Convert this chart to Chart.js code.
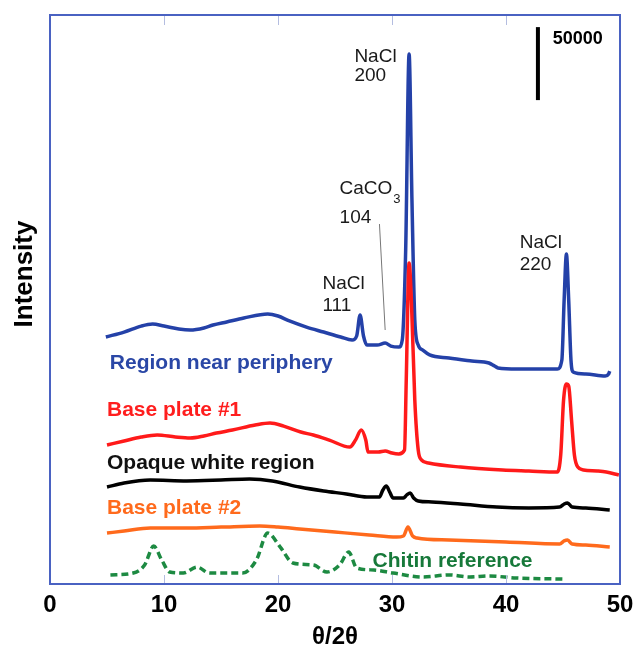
<!DOCTYPE html>
<html>
<head>
<meta charset="utf-8">
<script src="https://cdn.jsdelivr.net/npm/chart.js@4.4.1/dist/chart.umd.min.js"></script>
<style>
  html, body { margin: 0; padding: 0; background: #fff; }
  #wrap { width: 636px; height: 653px; }
</style>
</head>
<body>
<div id="wrap"><canvas id="xrd" width="636" height="653"></canvas></div>
<script>
// 2theta positions and offset intensities (counts)
var periphX = [4.9, 6.5, 8, 9, 10, 11.3, 12.3, 13.5, 14.3, 15.5, 17, 19.1, 20, 21, 22.5, 24, 25.5, 26.5, 26.9, 27.2, 27.5, 27.8, 28.7, 29.4, 29.9, 30.6, 30.9, 31.2, 31.5, 31.75, 32.0, 32.3, 32.7, 33.3, 35, 37, 38.5, 39, 39.3, 41, 44.5, 44.9, 45.1, 45.3, 45.5, 45.7, 45.9, 47, 48.7, 49.0, 49.1];
var periphY = [169200, 172600, 176700, 178100, 176700, 174700, 174000, 175400, 177400, 179500, 182200, 185000, 183600, 180200, 176000, 172600, 169200, 167100, 169900, 184300, 169900, 163700, 163700, 165100, 163000, 162300, 167100, 228800, 363100, 263000, 180800, 163700, 160300, 156900, 154800, 152800, 151400, 149300, 148000, 147300, 147300, 153400, 194500, 226100, 194500, 153400, 145200, 143900, 142500, 143900, 145900];

var base1X = [5, 6.5, 8, 9.4, 11, 12.3, 13.5, 14.6, 16, 18, 19.3, 20.5, 22, 23.1, 24.5, 26.3, 26.8, 27.3, 27.7, 27.9, 28.8, 29.4, 30, 30.6, 31.1, 31.25, 31.5, 31.7, 32.0, 32.3, 32.6, 33.2, 36, 39.7, 42, 44.5, 44.8, 45.05, 45.3, 45.5, 45.75, 46.0, 46.3, 46.8, 48, 48.8, 49.9];
var base1Y = [95200, 98000, 100700, 102100, 100700, 100000, 101400, 103400, 105500, 108900, 110300, 108200, 104100, 102100, 98600, 93800, 98600, 105500, 98600, 90400, 90400, 91100, 89700, 89100, 91800, 139700, 219900, 194500, 126000, 91800, 84900, 82900, 80100, 78100, 77400, 76700, 88400, 126000, 137000, 135600, 112300, 88400, 80100, 78100, 77400, 76700, 74700];

var opaqueX = [5, 6.5, 8.8, 12, 15, 17.5, 19.5, 21.9, 24, 26, 27.8, 28.9, 29.2, 29.5, 29.8, 30.1, 31, 31.3, 31.6, 31.9, 32.3, 33.5, 36, 39.2, 42, 44.7, 45.1, 45.4, 45.8, 47, 49.1];
var opaqueY = [66400, 69200, 71200, 70600, 71200, 71900, 70600, 66400, 63700, 61700, 59600, 59600, 64400, 67100, 63000, 58900, 58900, 61000, 62300, 58900, 56900, 56200, 54800, 52700, 52100, 52700, 54800, 55500, 52700, 52100, 50700];

var base2X = [5, 6.5, 8.8, 12, 15, 18.4, 20, 21.9, 25, 28, 30.4, 31.0, 31.4, 31.8, 32.2, 35, 40, 44.7, 45.1, 45.4, 45.8, 47, 49.1];
var base2Y = [34900, 36300, 38400, 38400, 39000, 39700, 39000, 37700, 35600, 33600, 32200, 32900, 39000, 32900, 31500, 30100, 28800, 27400, 29500, 30100, 27400, 26700, 25300];

var chitinX = [5.3, 7.3, 8.3, 9.1, 9.8, 10.5, 11.7, 12.9, 14.0, 16.9, 18.1, 19.1, 20.2, 21.3, 23.1, 24.3, 25.4, 26.2, 26.9, 28.4, 30.1, 32.7, 35, 36.8, 38.5, 40.9, 45.0];
var chitinY = [6200, 7500, 13000, 26000, 16400, 8200, 7500, 11600, 7500, 7500, 16400, 34900, 25300, 14400, 13000, 8200, 13000, 21900, 11000, 9600, 7500, 4800, 6200, 4800, 5500, 4100, 3400];

var xTicks = [0, 10, 20, 30, 40, 50];

function pts(xs, ys) {
    return xs.map(function (x, i) { return { x: x, y: ys[i] }; });
}

var FONT = "'Liberation Sans', Arial, sans-serif";

// peak labels: [text, 2theta, counts at baseline]
var peakLabels = [
    ["NaCl", 26.7, 357600], ["200", 26.7, 344600],
    ["104", 25.4, 247300],
    ["NaCl", 23.9, 201800], ["111", 23.9, 186700],
    ["NaCl", 41.2, 230200], ["220", 41.2, 215100]
];
// series names: [text, colour, 2theta, counts at baseline]
var seriesLabels = [
    ["Region near periphery", "#2a47a6", 5.25, 147300],
    ["Base plate #1", "#ff1e1e", 5.0, 115100],
    ["Opaque white region", "#111111", 5.0, 78800],
    ["Base plate #2", "#ff6a1c", 5.0, 47900],
    ["Chitin reference", "#17793a", 28.3, 11600]
];
var caco3Label = [25.4, 267200];

var framePlugin = {
    id: 'frame',
    afterDatasetsDraw: function (chart) {
        var ctx = chart.ctx;
        var a = chart.chartArea;
        var xs = chart.scales.x, ys = chart.scales.y;
        ctx.save();
        // inward tick marks top and bottom
        ctx.strokeStyle = "#b4bde0";
        ctx.lineWidth = 1;
        xTicks.forEach(function (t) {
            var px = Math.round(xs.getPixelForValue(t)) + 0.5;
            ctx.beginPath();
            ctx.moveTo(px, a.top); ctx.lineTo(px, a.top + 10);
            ctx.moveTo(px, a.bottom); ctx.lineTo(px, a.bottom - 9);
            ctx.stroke();
        });
        // frame
        ctx.strokeStyle = "#4a62c2";
        ctx.lineWidth = 2;
        ctx.strokeRect(a.left, a.top, a.right - a.left, a.bottom - a.top);

        // scale bar 50000
        ctx.strokeStyle = "#000";
        ctx.lineWidth = 4;
        ctx.beginPath();
        ctx.moveTo(xs.getPixelForValue(42.8), ys.getPixelForValue(381500));
        ctx.lineTo(xs.getPixelForValue(42.8), ys.getPixelForValue(331500));
        ctx.stroke();
        ctx.fillStyle = "#000";
        ctx.font = "bold 18px " + FONT;
        ctx.textBaseline = "alphabetic";
        ctx.textAlign = "left";
        ctx.fillText("50000", xs.getPixelForValue(44.1), ys.getPixelForValue(370100));

        // peak labels
        ctx.fillStyle = "#1a1a1a";
        ctx.font = "19px " + FONT;
        peakLabels.forEach(function (l) {
            ctx.fillText(l[0], xs.getPixelForValue(l[1]), ys.getPixelForValue(l[2]));
        });
        var cx = xs.getPixelForValue(caco3Label[0]), cy = ys.getPixelForValue(caco3Label[1]);
        ctx.fillText("CaCO", cx, cy);
        var w = ctx.measureText("CaCO").width;
        ctx.font = "13px " + FONT;
        ctx.fillText("3", cx + w + 1, cy + 9);
        // leader line to CaCO3 104
        ctx.strokeStyle = "#777";
        ctx.lineWidth = 1;
        ctx.beginPath();
        ctx.moveTo(xs.getPixelForValue(28.9), ys.getPixelForValue(246600));
        ctx.lineTo(xs.getPixelForValue(29.4), ys.getPixelForValue(174000));
        ctx.stroke();

        // series names
        ctx.font = "bold 21px " + FONT;
        seriesLabels.forEach(function (l) {
            ctx.fillStyle = l[1];
            ctx.fillText(l[0], xs.getPixelForValue(l[2]), ys.getPixelForValue(l[3]));
        });

        // y axis title
        ctx.save();
        ctx.translate(32, 274);
        ctx.rotate(-Math.PI / 2);
        ctx.textAlign = "center";
        ctx.fillStyle = "#000";
        ctx.font = "bold 26px " + FONT;
        ctx.fillText("Intensity", 0, 0);
        ctx.restore();
        ctx.restore();
    }
};

var line = function (label, data, color, dash) {
    return {
        label: label,
        data: data,
        borderColor: color,
        borderWidth: 3.5,
        borderDash: dash || [],
        borderJoinStyle: 'round',
        pointRadius: 0,
        fill: false,
        cubicInterpolationMode: 'monotone'
    };
};

new Chart(document.getElementById("xrd").getContext("2d"), {
    type: 'line',
    data: {
        datasets: [
            line("Chitin reference", pts(chitinX, chitinY), "#1d8a42", [7, 4]),
            line("Base plate #2", pts(base2X, base2Y), "#ff6a1c"),
            line("Opaque white region", pts(opaqueX, opaqueY), "#000000"),
            line("Base plate #1", pts(base1X, base1Y), "#ff1a1a"),
            line("Region near periphery", pts(periphX, periphY), "#2441a8")
        ]
    },
    options: {
        responsive: false,
        animation: false,
        layout: { padding: { left: 50, right: 16, top: 15, bottom: 0 } },
        plugins: { legend: { display: false }, tooltip: { enabled: false } },
        scales: {
            x: {
                type: 'linear',
                min: 0, max: 50,
                afterBuildTicks: function (s) { s.ticks = xTicks.map(function (v) { return { value: v }; }); },
                afterFit: function (s) { s.height = 69; s.paddingLeft = 0; s.paddingRight = 0; },
                grid: { display: false, drawTicks: false },
                border: { display: false },
                ticks: { color: "#000", padding: 7, font: { family: FONT, size: 24, weight: 'bold' } },
                title: { display: true, text: "θ/2θ", color: "#000", padding: { top: 0, bottom: 1 }, font: { family: FONT, size: 24, weight: 'bold' } }
            },
            y: { display: false, min: 0, max: 389800 }
        }
    },
    plugins: [framePlugin]
});
</script>
</body>
</html>
